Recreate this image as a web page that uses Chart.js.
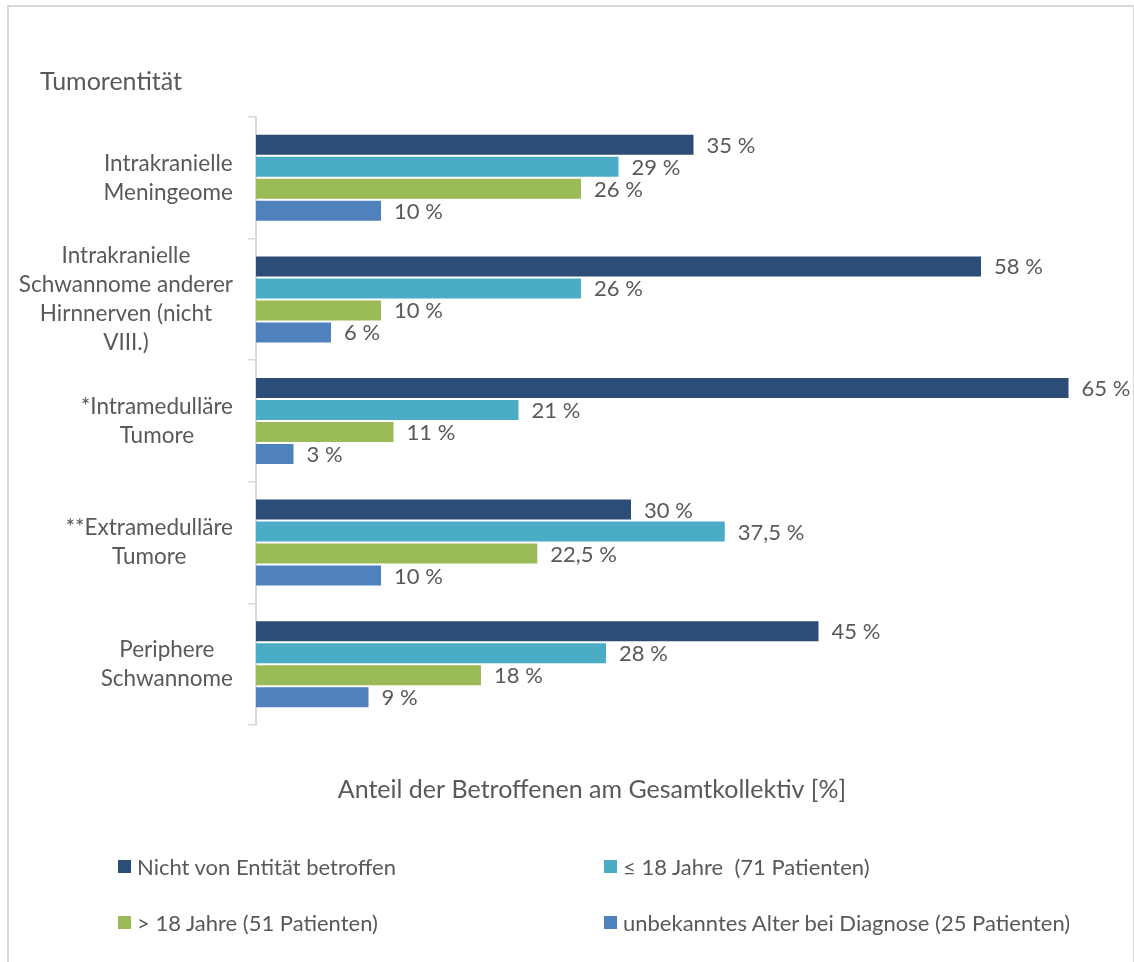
<!DOCTYPE html>
<html>
<head>
<meta charset="utf-8">
<script src="https://cdn.jsdelivr.net/npm/chart.js@4.4.1/dist/chart.umd.min.js"></script>
<style>
  html, body { margin: 0; padding: 0; background: #fff; }
  #wrap { position: relative; width: 1134px; height: 962px; overflow: hidden; font-family: Lato, "Open Sans", sans-serif; }
  #frame { position: absolute; left: 7px; top: 5px; width: 1124px; height: 1000px; border: 2px solid #d9d9d9; pointer-events: none; }
  canvas { position: absolute; left: 0; top: 0; }
  .leg { position: absolute; display: flex; align-items: center; font-size: 22px; color: #595959; white-space: pre; }
  .leg .sw { width: 13px; height: 13px; margin-right: 6px; }
</style>
</head>
<body>
<div id="wrap">
  <canvas id="c" width="1134" height="962"></canvas>
  <div id="legend"></div>
  <div id="frame"></div>
</div>
<script>
// Tumour entities (wrapped label lines)
const categories = [
  ["Intrakranielle", "Meningeome"],
  ["Intrakranielle", "Schwannome anderer", "Hirnnerven (nicht", "VIII.)"],
  ["*Intramedulläre", "Tumore"],
  ["**Extramedulläre", "Tumore"],
  ["Periphere", "Schwannome"]
];

// Share of patients per group, in percent
const notAffected = [35, 58, 65, 30, 45];
const upTo18      = [29, 26, 21, 37.5, 28];
const over18      = [26, 10, 11, 22.5, 18];
const unknownAge  = [10, 6, 3, 10, 9];

const seriesNames = [
  "Nicht von Entität betroffen",
  "≤ 18 Jahre  (71 Patienten)",
  "> 18 Jahre (51 Patienten)",
  "unbekanntes Alter bei Diagnose (25 Patienten)"
];
const seriesColors = ["#2C4D75", "#4BACC6", "#9BBB59", "#4F81BD"];

const textColor = "#595959";
const fontFamily = "Lato, 'Open Sans', sans-serif";

const fmt = v => String(v).replace(".", ",") + " %";

// Wrapped category labels, each block centred on itself and right-aligned to the axis
const categoryLabels = {
  id: "categoryLabels",
  afterDraw(chart) {
    const ctx = chart.ctx;
    const y = chart.scales.y;
    const right = y.right - 23;
    const lh = 29;
    ctx.save();
    ctx.font = "22.5px " + fontFamily;
    ctx.fillStyle = textColor;
    ctx.textAlign = "center";
    ctx.textBaseline = "middle";
    categories.forEach((lines, i) => {
      const cy = y.getPixelForValue(i);
      const w = Math.max(...lines.map(l => ctx.measureText(l).width));
      const cx = right - w / 2;
      const y0 = cy - (lines.length - 1) * lh / 2;
      lines.forEach((l, k) => ctx.fillText(l, cx, y0 + k * lh));
    });
    ctx.restore();
  }
};

// Value labels at the end of every bar
const valueLabels = {
  id: "valueLabels",
  afterDatasetsDraw(chart) {
    const ctx = chart.ctx;
    ctx.save();
    ctx.font = "22px " + fontFamily;
    ctx.fillStyle = textColor;
    ctx.textAlign = "left";
    ctx.textBaseline = "middle";
    chart.data.datasets.forEach((ds, di) => {
      chart.getDatasetMeta(di).data.forEach((bar, i) => {
        ctx.fillText(fmt(ds.data[i]), bar.x + 13, bar.y + 1);
      });
    });
    ctx.restore();
  }
};

// Horizontal axis caption
const axisCaption = {
  id: "axisCaption",
  afterDraw(chart) {
    const ctx = chart.ctx;
    ctx.save();
    ctx.font = "25px " + fontFamily;
    ctx.fillStyle = textColor;
    ctx.textAlign = "center";
    ctx.textBaseline = "middle";
    ctx.fillText("Anteil der Betroffenen am Gesamtkollektiv [%]", 592, chart.chartArea.bottom + 65);
    ctx.restore();
  }
};

const seriesData = [notAffected, upTo18, over18, unknownAge];

const chart = new Chart(document.getElementById("c"), {
  type: "bar",
  data: {
    labels: categories.map(l => l.join(" ")),
    datasets: seriesData.map((d, i) => ({
      label: seriesNames[i],
      data: d,
      backgroundColor: seriesColors[i],
      borderWidth: 0,
      categoryPercentage: 0.7237,
      barPercentage: 0.909
    }))
  },
  options: {
    indexAxis: "y",
    responsive: false,
    animation: false,
    layout: { padding: { left: 40, right: 3, top: 0, bottom: 237 } },
    plugins: {
      legend: { display: false },
      tooltip: { enabled: false },
      title: {
        display: true,
        text: "Tumorentität",
        align: "start",
        color: textColor,
        font: { family: fontFamily, size: 25, weight: "normal", lineHeight: 1.2 },
        padding: { top: 67, bottom: 20 }
      }
    },
    scales: {
      x: { display: false, min: 0, max: 70 },
      y: {
        type: "category",
        afterFit(scale) { scale.width = 216; },
        ticks: { display: false },
        grid: {
          display: true,
          offset: true,
          drawOnChartArea: false,
          drawTicks: true,
          tickLength: 8,
          color: "#d9d9d9",
          lineWidth: 1.5
        },
        border: { display: true, color: "#d9d9d9", width: 2 }
      }
    }
  },
  plugins: [categoryLabels, valueLabels, axisCaption]
});

// Two-column legend below the plot
const legendPos = [
  { left: 118, top: 866 },
  { left: 604, top: 866 },
  { left: 118, top: 922 },
  { left: 604, top: 922 }
];
const legendEl = document.getElementById("legend");
seriesNames.forEach((name, i) => {
  const item = document.createElement("div");
  item.className = "leg";
  item.style.left = legendPos[i].left + "px";
  item.style.top = (legendPos[i].top - 15) + "px";
  item.style.height = "30px";
  const sw = document.createElement("span");
  sw.className = "sw";
  sw.style.background = seriesColors[i];
  const tx = document.createElement("span");
  tx.textContent = name;
  item.appendChild(sw);
  item.appendChild(tx);
  legendEl.appendChild(item);
});
</script>
</body>
</html>
